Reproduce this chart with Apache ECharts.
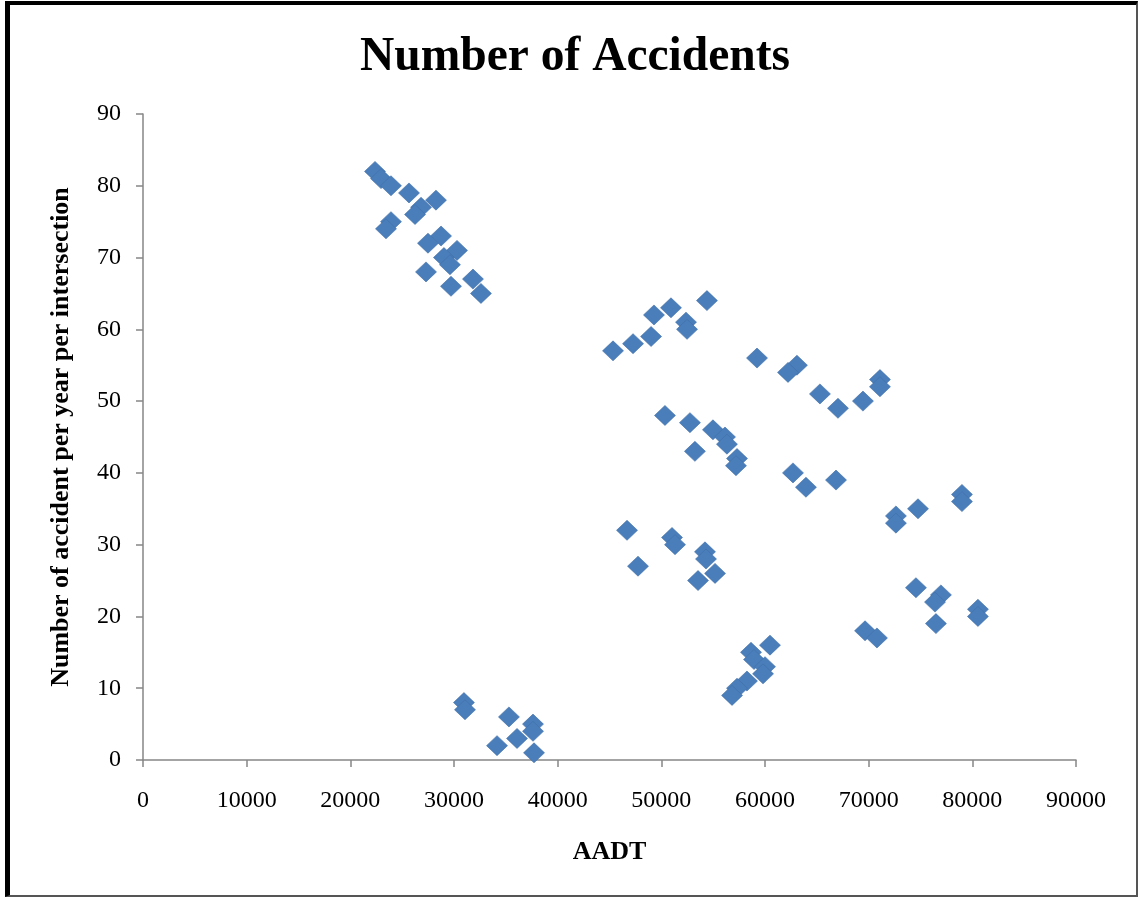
<!DOCTYPE html>
<html>
<head>
<meta charset="utf-8">
<script src="https://cdn.jsdelivr.net/npm/echarts@6/dist/echarts.min.js"></script>
<style>
html,body{margin:0;padding:0;background:#fff;}
#chart{position:absolute;left:0;top:0;width:1138px;height:897px;}
#frame{position:absolute;left:5px;top:1px;width:1126px;height:890px;border-left:5px solid #000;border-top:4px solid #000;border-right:2px solid #555;border-bottom:2px solid #555;pointer-events:none;}
</style>
</head>
<body>
<div id="chart"></div>
<div id="frame"></div>
<script>
const titleText = 'Number of Accidents';
const xAxisName = 'AADT';
const yAxisName = 'Number of accident per year per intersection';
const aadt = [22380,22960,23920,25660,28260,26820,26240,23920,23440,28750,27490,30290,29030,29610,27300,31830,29710,32600,
  54400,50930,49290,52380,52480,49010,47270,45340,
  59230,63080,62220,71090,71090,65300,69450,67040,
  50350,52760,54980,56140,56330,53240,57300,57200,62700,66850,63950,79000,79000,74760,72630,72630,
  46690,51030,51320,54210,54310,47750,55180,53540,74560,76970,76400,80540,80540,76490,69650,70800,
  60480,58650,58940,60000,59810,58260,57300,56820,
  30960,31060,35300,37620,37620,36080,34150,37720];
const accidents = [82,81,80,79,78,77,76,75,74,73,72,71,70,69,68,67,66,65,
  64,63,62,61,60,59,58,57,
  56,55,54,53,52,51,50,49,
  48,47,46,45,44,43,42,41,40,39,38,37,36,35,34,33,
  32,31,30,29,28,27,26,25,24,23,22,21,20,19,18,17,
  16,15,14,13,12,11,10,9,
  8,7,6,5,4,3,2,1];

const chart = echarts.init(document.getElementById('chart'));
const serif = 'Liberation Serif, Times New Roman, serif';
chart.setOption({
  animation:false,
  backgroundColor:'#fff',
  title:{text:titleText,left:570,textAlign:'center',top:29,textStyle:{fontFamily:serif,fontSize:47.5,fontWeight:'bold',color:'#000'}},
  grid:{left:143,right:62,top:114,bottom:137,containLabel:false},
  xAxis:{type:'value',min:0,max:90000,interval:10000,
    name:xAxisName,nameLocation:'middle',nameGap:79,
    nameTextStyle:{fontFamily:serif,fontSize:26,fontWeight:'bold',color:'#000',verticalAlign:'top'},
    axisLine:{show:true,lineStyle:{color:'#868686',width:1.5}},
    axisTick:{show:true,inside:false,length:7,lineStyle:{color:'#868686',width:1.5}},
    axisLabel:{fontFamily:serif,fontSize:24,color:'#000',margin:29,formatter:v=>String(v)},
    splitLine:{show:false}},
  yAxis:{type:'value',min:0,max:90,interval:10,
    name:yAxisName,nameLocation:'middle',nameGap:69,nameRotate:90,
    nameTextStyle:{fontFamily:serif,fontSize:26,fontWeight:'bold',color:'#000'},
    axisLine:{show:true,lineStyle:{color:'#868686',width:1.5}},
    axisTick:{show:true,inside:false,length:7,lineStyle:{color:'#868686',width:1.5}},
    axisLabel:{fontFamily:serif,fontSize:24,color:'#000',margin:22},
    splitLine:{show:false}},
  series:[{type:'scatter',symbol:'diamond',symbolSize:[21,20],
    itemStyle:{color:'#4a7ebb',borderColor:'#3f6fa8',borderWidth:0.6,opacity:1},
    data:aadt.map((x,i)=>[x,accidents[i]])}]
});
</script>
</body>
</html>
